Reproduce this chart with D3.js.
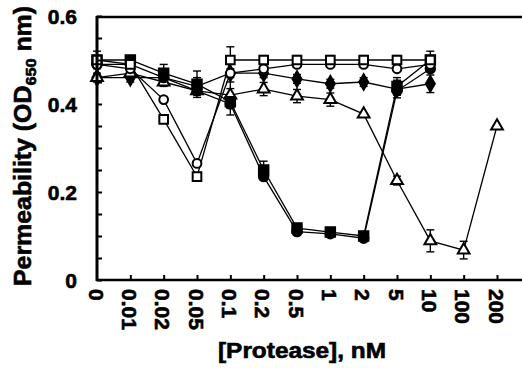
<!DOCTYPE html>
<html lang="en">
<head>
    <meta charset="UTF-8">
    <script src="https://d3js.org/d3.v7.min.js"></script>
    <title>Permeability vs protease</title>
    <style>
        html, body {
            margin: 0;
            padding: 0;
            background-color: #ffffff;
        }
        text {
            font-family: "Liberation Sans", Arial, sans-serif;
            font-weight: bold;
            fill: #000;
            stroke: #000;
            stroke-width: 0.6px;
        }
    </style>
</head>
<body>
    <div id="chart"></div>
    <script>

        // x categories (protease, nM), drawn at evenly spaced positions
        let categories = ['0', '0.01', '0.02', '0.05', '0.1', '0.2', '0.5', '1', '2', '5', '10', '100', '200'];
        let yTicks = [0, 0.2, 0.4, 0.6];

        // series (null = no point)
        let openSquare     = [0.50, 0.49, 0.365, 0.235, 0.50, 0.50, 0.50, 0.50, 0.50, 0.50, 0.50];
        let openSquareErr  = [0.02, 0.01, 0, 0, 0.03, 0.01, 0.01, 0.01, 0.01, 0.01, 0.01];
        let openCircle     = [0.49, 0.48, 0.41, 0.265, 0.47, 0.48, 0.49, 0.49, 0.49, 0.48, 0.49];
        let filledSquare   = [0.50, 0.50, 0.47, 0.445, 0.405, 0.25, 0.118, 0.109, 0.10, 0.44, 0.50];
        let filledSquareErr = [0.01, 0.01, 0.02, 0.03, 0.03, 0.02, 0.01, 0.01, 0.01, 0.02, 0.02];
        let filledCircle   = [0.49, 0.49, 0.46, 0.43, 0.40, 0.235, 0.11, 0.105, 0.095, 0.43, 0.48];
        let filledDiamond  = [0.46, 0.46, 0.46, 0.44, 0.47, 0.47, 0.457, 0.446, 0.45, 0.434, 0.446];
        let filledDiamondErr = [0.01, 0.01, 0.02, 0.02, 0.01, 0.01, 0.01, 0.01, 0.01, 0.02, 0.02];
        let openTriangle   = [0.46, 0.47, 0.45, 0.43, 0.42, 0.434, 0.418, 0.41, 0.377, 0.226, 0.089, 0.068, 0.35];
        let openTriangleErr = [0, 0, 0, 0, 0.03, 0.015, 0.015, 0.015, 0, 0.01, 0.025, 0.02, 0];

        let series = [
            {values: filledDiamond, err: filledDiamondErr, shape: d3.symbolDiamond, fill: '#000', size: 70},
            {values: openTriangle, err: openTriangleErr, shape: d3.symbolTriangle, fill: '#fff', size: 60},
            {values: filledCircle, err: null, shape: d3.symbolCircle, fill: '#000', size: 70},
            {values: filledSquare, err: filledSquareErr, shape: d3.symbolSquare, fill: '#000', size: 90},
            {values: openCircle, err: null, shape: d3.symbolCircle, fill: '#fff', size: 60},
            {values: openSquare, err: openSquareErr, shape: d3.symbolSquare, fill: '#fff', size: 75}
        ];

        let width = 522;
        let height = 368;

        let svg = d3.select('#chart').append('svg')
            .attr('width', width)
            .attr('height', height);

        let x = d3.scaleLinear().domain([0, 12.75]).range([97, 522]);
        let y = d3.scaleLinear().domain([0, 0.6]).range([280, 16]);

        // lines
        let line = d3.line()
            .defined(d => d != null)
            .x((d, i) => x(i))
            .y(d => y(d));

        series.forEach(s => {
            svg.append('path')
                .attr('d', line(s.values))
                .attr('fill', 'none')
                .attr('stroke', '#000')
                .attr('stroke-width', 1.3);
        });

        // error bars
        series.forEach(s => {
            if (!s.err) return;
            s.values.forEach((v, i) => {
                let e = s.err[i];
                if (v == null || !e) return;
                let g = svg.append('g').attr('stroke', '#000').attr('stroke-width', 1.4);
                g.append('line').attr('x1', x(i)).attr('x2', x(i)).attr('y1', y(v - e)).attr('y2', y(v + e));
                g.append('line').attr('x1', x(i) - 4).attr('x2', x(i) + 4).attr('y1', y(v - e)).attr('y2', y(v - e));
                g.append('line').attr('x1', x(i) - 4).attr('x2', x(i) + 4).attr('y1', y(v + e)).attr('y2', y(v + e));
            });
        });

        // markers
        series.forEach(s => {
            svg.append('g').selectAll('path')
                .data(s.values.map((v, i) => ({v: v, i: i})).filter(d => d.v != null))
                .join('path')
                .attr('transform', d => `translate(${x(d.i)},${y(d.v)})`)
                .attr('d', d3.symbol().type(s.shape).size(s.size))
                .attr('fill', s.fill)
                .attr('stroke', '#000')
                .attr('stroke-width', 2);
        });

        // axes frame: left, bottom, top
        svg.append('line').attr('x1', 97).attr('x2', 97).attr('y1', 16).attr('y2', 281)
            .attr('stroke', '#000').attr('stroke-width', 3);
        svg.append('line').attr('x1', 96).attr('x2', 522).attr('y1', 280).attr('y2', 280)
            .attr('stroke', '#000').attr('stroke-width', 2.5);
        svg.append('line').attr('x1', 96).attr('x2', 522).attr('y1', 17).attr('y2', 17)
            .attr('stroke', '#000').attr('stroke-width', 2.5);

        // y ticks (inward), minor every 0.05
        let yAxis = d3.axisRight(y)
            .tickValues(d3.range(0, 0.6001, 0.05))
            .tickSize(5)
            .tickFormat('');
        svg.append('g')
            .attr('transform', 'translate(97,0)')
            .call(yAxis)
            .call(g => g.select('.domain').remove())
            .call(g => g.selectAll('line').attr('stroke-width', 2));

        svg.append('g').selectAll('text')
            .data(yTicks)
            .join('text')
            .attr('x', 77)
            .attr('y', d => y(d))
            .attr('text-anchor', 'end')
            .attr('dominant-baseline', 'central')
            .attr('font-size', 21)
            .text(d => d === 0 ? '0' : d.toFixed(1));

        // x ticks (inward) and rotated labels
        let xAxis = d3.axisTop(x)
            .tickValues(d3.range(1, categories.length))
            .tickSize(5)
            .tickFormat('');
        svg.append('g')
            .attr('transform', 'translate(0,280)')
            .call(xAxis)
            .call(g => g.select('.domain').remove())
            .call(g => g.selectAll('line').attr('stroke-width', 2));

        svg.append('g').selectAll('text')
            .data(categories)
            .join('text')
            .attr('transform', (d, i) => `translate(${x(i) - 1},289) rotate(90)`)
            .attr('text-anchor', 'start')
            .attr('dominant-baseline', 'central')
            .attr('font-size', 21)
            .text(d => d);

        // axis titles
        svg.append('text')
            .attr('x', 302)
            .attr('y', 358)
            .attr('text-anchor', 'middle')
            .attr('font-size', 22)
            .attr('textLength', 168)
            .attr('lengthAdjust', 'spacingAndGlyphs')
            .text('[Protease], nM');

        let yTitle = svg.append('text')
            .attr('transform', 'translate(31,146) rotate(-90)')
            .attr('text-anchor', 'middle')
            .attr('font-size', 23)
            .attr('textLength', 280)
            .attr('lengthAdjust', 'spacingAndGlyphs');
        yTitle.append('tspan').text('Permeability (OD');
        yTitle.append('tspan').attr('font-size', 15).attr('dy', 5).text('650');
        yTitle.append('tspan').attr('dy', -5).text(' nm)');

    </script>
</body>
</html>
